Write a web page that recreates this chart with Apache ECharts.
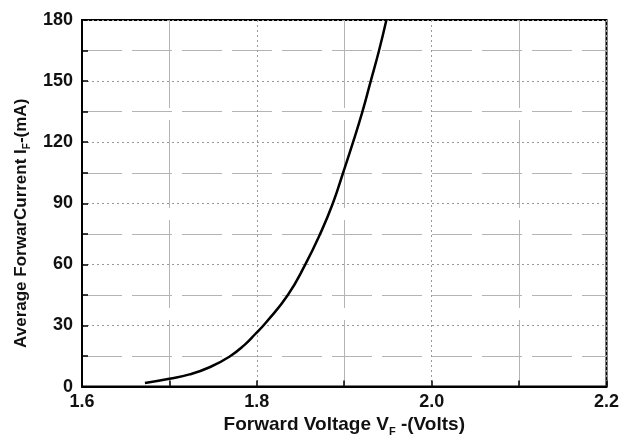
<!DOCTYPE html>
<html>
<head>
<meta charset="utf-8">
<script src="https://cdn.jsdelivr.net/npm/echarts@6/dist/echarts.min.js"></script>
<style>
html,body{margin:0;padding:0;background:#fff;}
#chart{width:622px;height:442px;}
</style>
</head>
<body>
<div id="chart"></div>
<script>
// Forward voltage (V) and average forward current (mA)
const voltage = [1.672, 1.700, 1.723, 1.746, 1.769, 1.786, 1.798, 1.8105, 1.8355, 1.8555, 1.8725, 1.887, 1.8987, 1.9101, 1.9208, 1.9303, 1.9398, 1.9482];
const current = [1.8, 3.9, 6.0, 9.5, 14.8, 20.5, 25.7, 31.5, 45, 60, 75, 90, 105, 120, 135, 150, 165, 180];
const xTicks = [1.6, 1.8, 2.0, 2.2];
const yTicks = [0, 30, 60, 90, 120, 150, 180];

const points = voltage.map((v, i) => [v, current[i]]);
const font = 'Arial, "Liberation Sans", sans-serif';

const chart = echarts.init(document.getElementById('chart'), null, {renderer: 'canvas'});
chart.setOption({
  backgroundColor: '#fff',
  animation: false,
  grid: {left: 82, right: 15, top: 20, bottom: 53, show: true, borderColor: '#000', borderWidth: 2},
  xAxis: {
    type: 'value',
    min: xTicks[0], max: xTicks[xTicks.length - 1], interval: 0.2,
    name: '{n|Forward Voltage V}{s|F}{n| -(Volts)}',
    nameLocation: 'middle', nameGap: 24,
    nameTextStyle: {
      rich: {
        n: {fontFamily: font, fontSize: 19, fontWeight: 'bold', color: '#111'},
        s: {fontFamily: font, fontSize: 11, fontWeight: 'bold', color: '#111', padding: [13, 0, 0, 0]}
      }
    },
    axisLine: {lineStyle: {color: '#000', width: 2}},
    axisTick: {show: true, inside: true, length: 6, lineStyle: {color: '#000', width: 1.5}},
    minorTick: {show: true, splitNumber: 2, length: 6, lineStyle: {color: '#000', width: 1.5}},
    axisLabel: {
      fontFamily: font, fontSize: 18, fontWeight: 'bold', color: '#111', margin: 6,
      formatter: v => v.toFixed(1)
    },
    splitLine: {show: true, lineStyle: {color: '#999', width: 1, type: [2, 3]}},
    minorSplitLine: {show: true, lineStyle: {color: '#b4b4b4', width: 1, type: [88, 12]}}
  },
  yAxis: {
    type: 'value',
    min: yTicks[0], max: yTicks[yTicks.length - 1], interval: 30,
    name: '{n|Average ForwarCurrent I}{s|F}{n|-(mA)}',
    nameLocation: 'middle', nameGap: 49, nameRotate: 90,
    nameTextStyle: {
      padding: [0, 40, 0, 0],
      rich: {
        n: {fontFamily: font, fontSize: 17, fontWeight: 'bold', color: '#111'},
        s: {fontFamily: font, fontSize: 10, fontWeight: 'bold', color: '#111', padding: [11, 0, 0, 0]}
      }
    },
    axisLine: {lineStyle: {color: '#000', width: 2}},
    axisTick: {show: true, inside: true, length: 6, lineStyle: {color: '#000', width: 1.5}},
    minorTick: {show: true, splitNumber: 2, length: 6, lineStyle: {color: '#000', width: 1.5}},
    axisLabel: {fontFamily: font, fontSize: 18, fontWeight: 'bold', color: '#111', margin: 9},
    splitLine: {show: true, lineStyle: {color: '#999', width: 1, type: [2, 3]}},
    minorSplitLine: {show: true, lineStyle: {color: '#b4b4b4', width: 1, type: [40, 10]}}
  },
  series: [{
    type: 'line',
    data: points,
    smooth: 0.5,
    showSymbol: false,
    lineStyle: {color: '#000', width: 2.5},
    clip: true
  }]
});
</script>
</body>
</html>
